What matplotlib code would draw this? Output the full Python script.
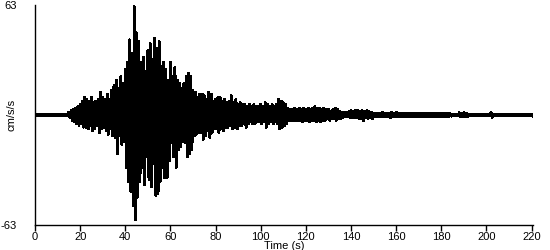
import numpy as np
import matplotlib
matplotlib.use('Agg')
import matplotlib.pyplot as plt

#  peak amplitudes (cm/s/s), one pair per second, t = 0..220
upper = [
    0.5, 0.5, 0.5, 0.5, 0.5, 0.5, 0.5, 0.5, 0.5, 0.5,
    0.5, 0.5, 0.5, 0.5, 0.5, 1.5, 2.5, 3, 4, 5,
    6, 8, 10, 9, 8, 10, 7, 8, 9, 13,
    10, 9, 12, 9, 14, 17, 20, 15, 22, 18,
    26, 30, 43, 35, 62, 47, 42, 30, 33, 25,
    37, 41, 32, 44, 38, 42, 28, 30, 26, 20,
    30, 22, 27, 20, 18, 15, 18, 22, 24, 22,
    14, 13, 10, 12, 12, 11, 9, 13, 12, 8,
    9, 10, 10, 8, 9, 7, 8, 11, 7, 9,
    6, 7, 6, 6, 5, 6, 5, 6, 5, 5,
    6, 5, 7, 6, 5, 6, 5, 6, 9, 8,
    7, 6, 4, 3, 3, 4, 3, 4, 3, 4,
    3, 4, 3, 4, 5, 4, 4, 3, 4, 3,
    3, 2, 3, 4, 3, 2, 1.5, 1.5, 1.5, 2,
    2.5, 2, 2.5, 2.5, 2, 2.5, 2, 2.5, 2, 1.5,
    1, 1.2, 1, 1.2, 1.5, 1, 1.2, 1, 1.5, 1,
    1.5, 1, 1, 0.8, 1.2, 1, 0.8, 0.8, 0.8, 0.8,
    0.7, 0.7, 1.0, 0.7, 0.7, 0.7, 1.0, 0.7, 0.7, 0.7,
    1.0, 0.7, 1.2, 0.7, 0.7, 0.6, 0.6, 0.6, 1.3, 1.2,
    1.3, 1.0, 0.6, 0.6, 0.6, 0.6, 0.6, 0.6, 0.6, 0.6,
    0.6, 0.6, 1.5, 0.6, 0.6, 0.6, 0.6, 0.6, 0.6, 0.6,
    0.6, 0.6, 0.6, 0.6, 0.6, 0.6, 0.6, 0.6, 0.6, 0.6,
    0.6,
]
lower = [
    0.5, 0.5, 0.5, 0.5, 0.5, 0.5, 0.5, 0.5, 0.5, 0.5,
    0.5, 0.5, 0.5, 0.5, 0.5, 1.5, 3, 4, 5, 6,
    5, 7, 7, 8, 6, 9, 8, 6, 10, 8,
    7, 9, 11, 8, 12, 13, 22, 12, 17, 15,
    30, 38, 44, 52, 60, 47, 38, 30, 40, 24,
    37, 41, 28, 46, 45, 38, 30, 36, 36, 26,
    16, 24, 30, 20, 18, 15, 16, 24, 22, 20,
    12, 11, 10, 10, 14, 12, 9, 13, 10, 8,
    8, 10, 8, 9, 7, 7, 6, 8, 7, 8,
    6, 6, 5, 7, 5, 4, 5, 5, 4, 4,
    5, 4, 7, 5, 4, 5, 4, 5, 8, 7,
    6, 5, 3, 3, 3, 3, 3, 3, 4, 3,
    3, 4, 3, 3, 4, 3, 4, 3, 3, 2,
    3, 2, 2, 3, 2, 2, 1.5, 1, 1, 1.5,
    1.5, 1.5, 1.5, 2, 2, 3, 1.5, 2, 1.5, 2,
    1, 1.2, 1, 1, 1, 1, 1.2, 1.5, 1, 1,
    1.2, 1, 1.2, 0.8, 1, 1, 0.8, 1.2, 0.8, 0.8,
    0.7, 0.7, 1.0, 0.7, 0.7, 0.7, 1.0, 0.7, 0.7, 0.7,
    1.0, 0.7, 1.0, 0.7, 0.7, 0.6, 0.6, 0.6, 1.2, 1.2,
    1.0, 1.0, 0.6, 0.6, 0.6, 0.6, 0.6, 0.6, 0.6, 0.6,
    0.6, 0.6, 1.5, 0.6, 0.6, 0.6, 0.6, 0.6, 0.6, 0.6,
    0.6, 0.6, 0.6, 0.6, 0.6, 0.6, 0.6, 0.6, 0.6, 0.6,
    0.6,
]
y_limit = 63
x_ticks = [0, 20, 40, 60, 80, 100, 120, 140, 160, 180, 200, 220]


def main():
    plt.rcParams['font.family'] = ['Liberation Sans', 'DejaVu Sans']
    fig = plt.figure(figsize=(5.5, 2.5), dpi=100)
    ax = fig.add_axes([0.0636, 0.10, 0.9055, 0.88])

    #  zigzag between positive and negative peaks, half a second apart
    secs = np.arange(len(upper))
    t = np.empty(2 * len(secs))
    a = np.empty(2 * len(secs))
    t[0::2] = secs
    t[1::2] = secs + 0.5
    a[0::2] = upper
    a[1::2] = -np.array(lower)
    ax.plot(t, a, color='black', linewidth=1.4, antialiased=False)

    ax.set_xlim(0, 220.6)
    ax.set_ylim(-y_limit, y_limit)

    for side in ('top', 'right'):
        ax.spines[side].set_visible(False)
    ax.spines['left'].set_linewidth(1)
    ax.spines['bottom'].set_linewidth(1)

    ax.set_xticks(x_ticks)
    ax.set_xticklabels([str(v) for v in x_ticks], fontsize=8)
    ax.tick_params(axis='x', direction='out', length=4, width=1, pad=1)
    ax.set_yticks([-y_limit, y_limit])
    ax.set_yticklabels(['-63', '63'], fontsize=8)
    ax.tick_params(axis='y', length=0, pad=13)

    ax.set_xlabel('Time (s)', fontsize=8, labelpad=-1)
    ax.set_ylabel('cm/s/s', fontsize=8)
    ax.yaxis.set_label_coords(-0.037, 0.5)

    fig.savefig('out.png', dpi=100)


if __name__ == '__main__':
    main()
